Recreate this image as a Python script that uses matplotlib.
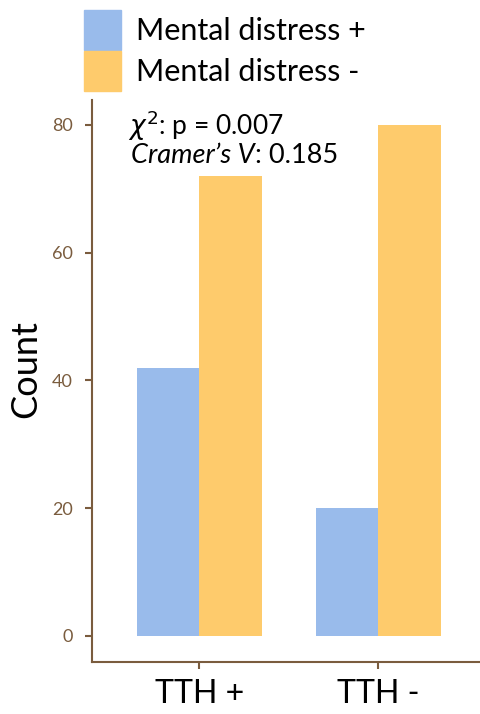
import numpy as np
import matplotlib.pyplot as plt
from matplotlib.patches import Patch

groups = ['TTH +', 'TTH -']
distress_pos = [42, 20]
distress_neg = [72, 80]
series_names = ['Mental distress +', 'Mental distress -']
yticks = [0, 20, 40, 60, 80]

blue = '#99bbeb'
orange = '#fecb6c'
brown = '#7a5c3e'

plt.rcParams['font.family'] = ['Lato', 'DejaVu Sans']

fig = plt.figure(figsize=(4.81, 7.14), dpi=100)
ax = fig.add_axes([92/481, 52/714, (481-92)/481, (662-100)/714])

x = np.arange(len(groups))
w = 0.35
ax.bar(x - w/2, distress_pos, w, color=blue, label=series_names[0])
ax.bar(x + w/2, distress_neg, w, color=orange, label=series_names[1])

ax.set_xlim(-0.6, 1.575)
ax.set_ylim(-4.07, 83.9)
ax.set_yticks(yticks)
ax.set_xticks(x)
ax.set_xticklabels(groups, fontsize=23, color='black')
ax.tick_params(axis='y', colors=brown, labelsize=13, length=5, width=1.5, pad=9)
ax.tick_params(axis='x', color=brown, length=5, width=1.5, pad=7)
for s in ['top', 'right']:
    ax.spines[s].set_visible(False)
for s in ['left', 'bottom']:
    ax.spines[s].set_color(brown)
    ax.spines[s].set_linewidth(1.5)

ax.set_ylabel('Count', fontsize=26, color='black', va='center')
ax.yaxis.set_label_coords(-0.17, 0.521)

ax.text(0.0925, 0.955, r'$\chi^2$: p = 0.007', transform=ax.transAxes,
        fontsize=19, va='center')
cv = ax.text(0.1, 0.902, "Cramer\u2019s V", transform=ax.transAxes,
             fontsize=19.5, va='center', fontstyle='italic')
ax.annotate(': 0.185', xy=(1, 0.5), xycoords=cv, fontsize=19.5, va='center')

handles = [Patch(color=blue), Patch(color=orange)]
fig.legend(handles, series_names, loc='upper left',
           bbox_to_anchor=(84/481, 1 - 10/714),
           frameon=False, fontsize=22, handlelength=1.21, handleheight=1.63,
           handletextpad=0.5, labelspacing=0.03, borderpad=0, borderaxespad=0)

fig.savefig('out.png', dpi=100)
